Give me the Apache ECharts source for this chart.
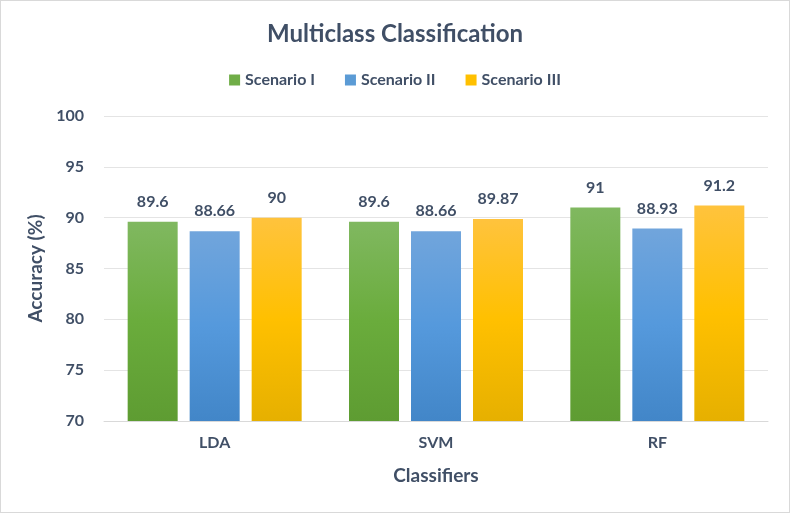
<!DOCTYPE html>
<html>
<head>
<meta charset="utf-8">
<script src="https://cdn.jsdelivr.net/npm/echarts@6/dist/echarts.min.js"></script>
<style>
  html, body { margin: 0; padding: 0; background: #fff; }
  #chart { width: 788px; height: 511px; border: 1px solid #d9d9d9; }
</style>
</head>
<body>
<div id="chart"></div>
<script>
var categories = ['LDA', 'SVM', 'RF'];
var scenario1 = [89.6, 89.6, 91];
var scenario2 = [88.66, 88.66, 88.93];
var scenario3 = [90, 89.87, 91.2];
var seriesNames = ['Scenario I', 'Scenario II', 'Scenario III'];

var textColor = '#404f66';
var font = 'Lato, "Open Sans", sans-serif';

function grad(top, mid, bottom) {
  return new echarts.graphic.LinearGradient(0, 0, 0, 1, [
    { offset: 0, color: top },
    { offset: 0.5, color: mid },
    { offset: 1, color: bottom }
  ]);
}

var colors = [
  grad('#80b860', '#6aac3c', '#5e9c32'),
  grad('#71a5dc', '#5599dc', '#4286c8'),
  grad('#ffc33d', '#ffc000', '#e6b000')
];
var legendColors = ['#70ad47', '#5b9bd5', '#ffc000'];

function makeSeries(i, data) {
  return {
    name: seriesNames[i],
    type: 'bar',
    data: data,
    barWidth: 50,
    barGap: '24%',
    itemStyle: { color: colors[i] },
    label: {
      show: true,
      position: 'top',
      distance: 12,
      color: textColor,
      fontSize: 16,
      fontWeight: 'bold',
      fontFamily: font
    }
  };
}

var chart = echarts.init(document.getElementById('chart'));
chart.setOption({
  backgroundColor: '#fff',
  color: legendColors,
  title: {
    text: 'Multiclass Classification',
    left: 'center',
    top: 16,
    textStyle: { color: textColor, fontSize: 24, fontWeight: 'bold', fontFamily: font }
  },
  legend: {
    top: 66,
    left: 'center',
    itemWidth: 11,
    itemHeight: 11,
    itemGap: 30,
    icon: 'rect',
    textStyle: { color: textColor, fontSize: 16, fontWeight: 'bold', fontFamily: font },
    data: seriesNames.map(function (n, i) { return { name: n, itemStyle: { color: legendColors[i] } }; })
  },
  grid: { left: 103, right: 21, top: 115, bottom: 91 },
  xAxis: {
    type: 'category',
    data: categories,
    name: 'Classifiers',
    nameLocation: 'middle',
    nameGap: 45,
    nameTextStyle: { color: textColor, fontSize: 19, fontWeight: 'bold', fontFamily: font },
    axisLine: { lineStyle: { color: '#d9d9d9' } },
    axisTick: { show: false },
    axisLabel: { color: textColor, fontSize: 16, fontWeight: 'bold', fontFamily: font, margin: 14 }
  },
  yAxis: {
    type: 'value',
    min: 70,
    max: 100,
    interval: 5,
    name: 'Accuracy (%)',
    nameLocation: 'middle',
    nameGap: 56,
    nameTextStyle: { color: textColor, fontSize: 19, fontWeight: 'bold', fontFamily: font },
    axisLine: { show: false },
    axisTick: { show: false },
    splitLine: { lineStyle: { color: '#e4e4e4' } },
    axisLabel: { color: textColor, fontSize: 16, fontWeight: 'bold', fontFamily: font, margin: 20 }
  },
  series: [
    makeSeries(0, scenario1),
    makeSeries(1, scenario2),
    makeSeries(2, scenario3)
  ]
});
</script>
</body>
</html>
